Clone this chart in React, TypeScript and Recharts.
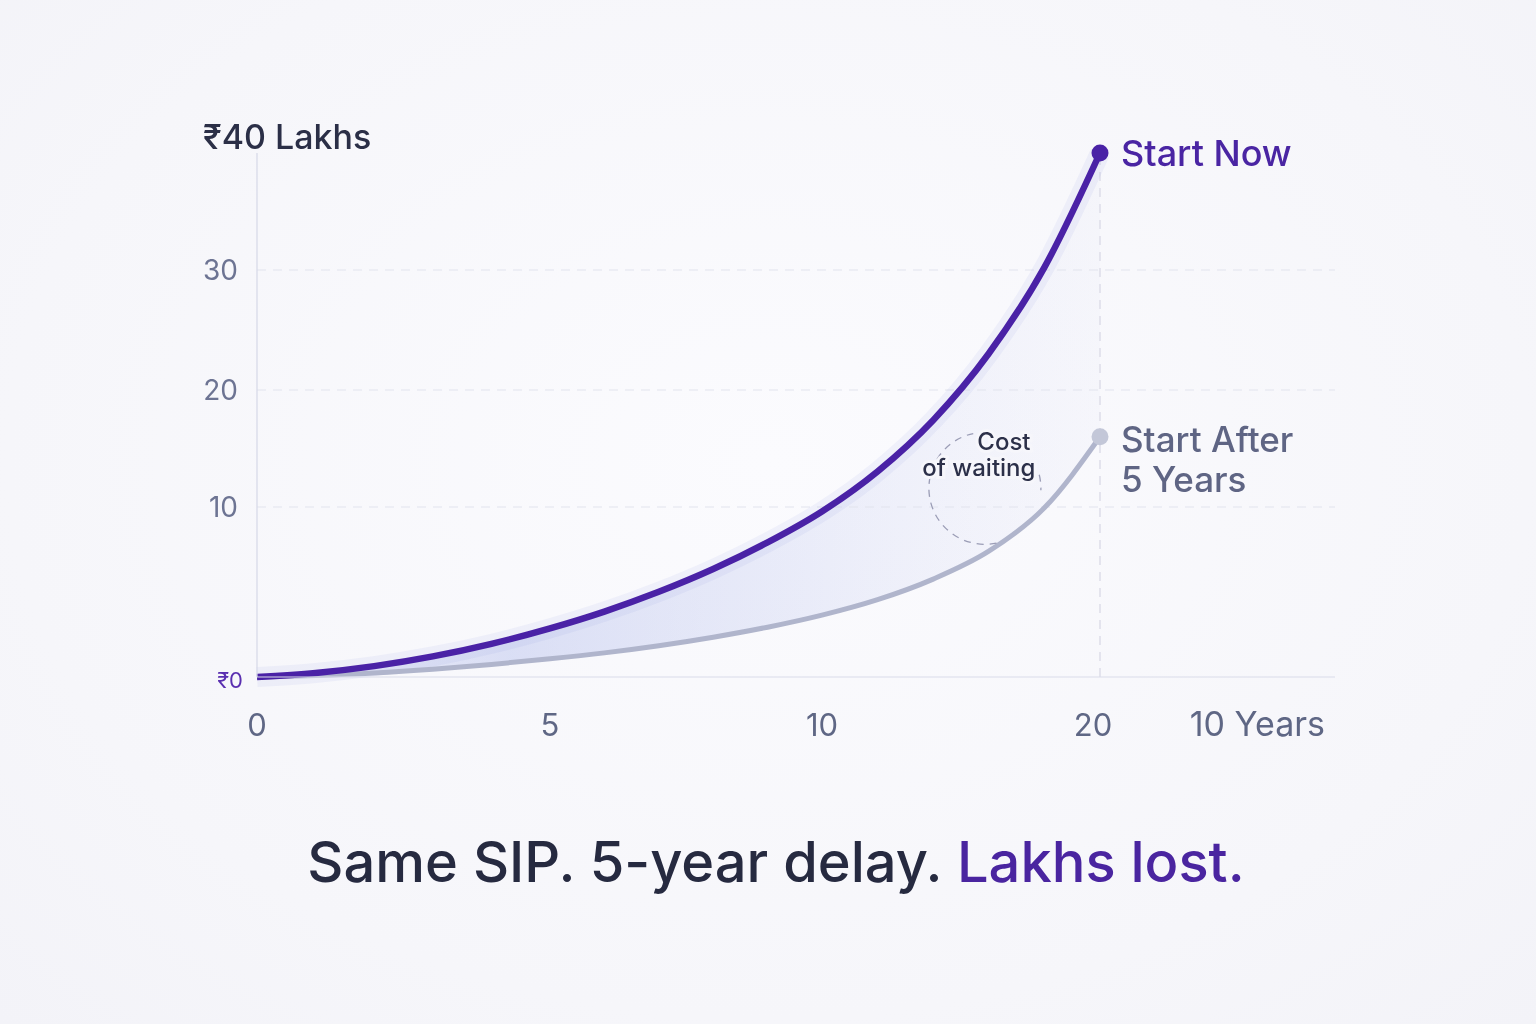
import {
  Area,
  ComposedChart,
  Line,
  ReferenceDot,
  ReferenceLine,
  XAxis,
  YAxis,
} from "recharts";

// years since first SIP instalment
const YEARS = [0, 1, 2, 3, 4, 5, 6, 7, 8, 9, 10, 12, 14, 16, 18, 20];
// corpus in ₹ lakhs
const START_NOW = [0, 0.24, 0.64, 1.21, 1.95, 2.86, 3.85, 5.01, 6.35, 7.92, 9.74, 13.04, 17.42, 23.04, 30.23, 40];
const START_LATER = [0, 0.09, 0.24, 0.46, 0.74, 1.07, 1.42, 1.84, 2.34, 2.93, 3.64, 4.55, 5.76, 7.4, 9.95, 16];

const X_TICKS = [0, 5, 10, 20];
const Y_TICKS = [0, 10, 20, 30, 40];
const GRID_Y = [10, 20, 30];

// the artwork's axes are not evenly spaced, so both use a piecewise scale
const X_KNOTS = [0, 5, 10, 20, 28];
const X_FRACS = [0, 0.2718, 0.5241, 0.782, 1];
const Y_KNOTS = [0, 10, 20, 30, 40];
const Y_FRACS = [0, 0.3244, 0.5477, 0.7767, 1];

const DATA = YEARS.map((year, i) => ({
  year,
  now: START_NOW[i],
  later: START_LATER[i],
}));

const PURPLE = "#4a22a6";
const GREY = "#b0b5cc";
const FONT = "Inter, 'Noto Sans', sans-serif";

function piecewiseScale(knots: number[], fracs: number[]) {
  let dom = [knots[0], knots[knots.length - 1]];
  let rng = [0, 1];
  const scale: any = (v: number) => {
    let i = 0;
    while (i < knots.length - 2 && v > knots[i + 1]) i++;
    const t = (v - knots[i]) / (knots[i + 1] - knots[i]);
    const f = fracs[i] + t * (fracs[i + 1] - fracs[i]);
    return rng[0] + f * (rng[1] - rng[0]);
  };
  scale.domain = (d?: number[]) => {
    if (!d) return dom;
    dom = d;
    return scale;
  };
  scale.range = (r?: number[]) => {
    if (!r) return rng;
    rng = r;
    return scale;
  };
  scale.copy = () => piecewiseScale(knots, fracs).domain(dom).range(rng);
  scale.ticks = () => knots;
  return scale;
}

const xScale = piecewiseScale(X_KNOTS, X_FRACS);
const yScale = piecewiseScale(Y_KNOTS, Y_FRACS);

function YTick(props: any) {
  const { x, y, payload } = props;
  const v = payload.value;
  if (v === 40) {
    return (
      <text x={x - 35} y={y - 4} fill="#2b2f47" fontSize={34} fontWeight={500} fontFamily={FONT}>
        ₹40 Lakhs
      </text>
    );
  }
  if (v === 0) {
    return (
      <text x={x + 5} y={y + 11} textAnchor="end" fill="#5a2fb0" fontSize={22} fontFamily={FONT}>
        ₹0
      </text>
    );
  }
  return (
    <text x={x} y={y + 10} textAnchor="end" fill="#6d7493" fontSize={28} fontFamily={FONT}>
      {v}
    </text>
  );
}

function XTick(props: any) {
  const { x, y, payload } = props;
  const shift = payload.value === 20 ? -7 : 0;
  return (
    <text x={x + shift} y={y + 59} textAnchor="middle" fill="#5f6785" fontSize={31} fontFamily={FONT}>
      {payload.value}
    </text>
  );
}

function YearsLabel(props: any) {
  const vb = props.viewBox;
  return (
    <text x={vb.x + vb.width - 10} y={vb.y + 59} textAnchor="end" fill="#5f6785" fontSize={34} fontFamily={FONT}>
      10 Years
    </text>
  );
}

function endDot(color: string) {
  return (p: any) =>
    p.index === DATA.length - 1 ? (
      <circle key={p.index} cx={p.cx} cy={p.cy} r={8.5} fill={color} />
    ) : (
      <g key={p.index} />
    );
}

function EndLabel(lines: string[], color: string, dy: number, size: number) {
  return (p: any) => (
    <text x={p.cx + 21} y={p.cy + dy} fill={color} fontSize={size} fontWeight={500} fontFamily={FONT}>
      {lines.map((l, i) => (
        <tspan key={i} x={p.cx + 21} dy={i === 0 ? 0 : 40}>
          {l}
        </tspan>
      ))}
    </text>
  );
}

function CostOfWaiting(p: any) {
  const { cx, cy } = p;
  const r = 56;
  const pt = (deg: number) => {
    const a = (deg * Math.PI) / 180;
    return `${cx + r * Math.cos(a)} ${cy + r * Math.sin(a)}`;
  };
  const textStyle = {
    paintOrder: "stroke" as const,
    stroke: "#f6f6fb",
    strokeWidth: 6,
  };
  return (
    <g>
      <path
        d={`M ${pt(78)} A ${r} ${r} 0 0 1 ${pt(258)}`}
        fill="none"
        stroke="#9b9db6"
        strokeWidth={1.3}
        strokeDasharray="7 6"
      />
      <path
        d={`M ${pt(-14)} A ${r} ${r} 0 0 1 ${pt(2)}`}
        fill="none"
        stroke="#9b9db6"
        strokeWidth={1.3}
        strokeDasharray="7 6"
      />
      <text x={cx + 19} y={cy - 38} textAnchor="middle" fill="#2c3049" fontSize={24} fontWeight={500} fontFamily={FONT} style={textStyle}>
        Cost
      </text>
      <text x={cx - 6} y={cy - 12} textAnchor="middle" fill="#2c3049" fontSize={24} fontWeight={500} fontFamily={FONT} style={textStyle}>
        of waiting
      </text>
    </g>
  );
}

export default function App() {
  return (
    <div
      style={{
        position: "fixed",
        left: 0,
        top: 0,
        width: 1536,
        height: 1024,
        overflow: "hidden",
        background: "radial-gradient(ellipse at 50% 45%, #fbfbfe 0%, #f6f6fa 70%, #f3f3f8 100%)",
        fontFamily: FONT,
      }}
    >
      <div style={{ position: "absolute", left: 0, top: 0 }}>
        <ComposedChart
          width={1536}
          height={760}
          data={DATA}
          margin={{ top: 153, right: 201, bottom: 23, left: 197 }}
        >
          <defs>
            <linearGradient id="gapFill" x1="0" y1="0" x2="1" y2="0">
              <stop offset="0%" stopColor="#8e9de3" stopOpacity={0.15} />
              <stop offset="30%" stopColor="#8e9de3" stopOpacity={0.48} />
              <stop offset="62%" stopColor="#98a5e4" stopOpacity={0.3} />
              <stop offset="100%" stopColor="#b4bbe8" stopOpacity={0.08} />
            </linearGradient>
          </defs>
          <XAxis
            dataKey="year"
            type="number"
            domain={[0, 28]}
            scale={xScale}
            ticks={X_TICKS}
            height={60}
            tickLine={false}
            tickSize={0}
            tickMargin={0}
            axisLine={{ stroke: "#d9dbe9", strokeWidth: 1.2 }}
            tick={<XTick />}
            interval={0}
            label={<YearsLabel />}
          />
          <YAxis
            type="number"
            domain={[0, 40]}
            scale={yScale}
            ticks={Y_TICKS}
            width={60}
            tickLine={false}
            tickSize={0}
            tickMargin={19}
            axisLine={{ stroke: "#d6d8e8", strokeWidth: 1.2 }}
            tick={<YTick />}
            interval={0}
          />
          {GRID_Y.map((v) => (
            <ReferenceLine key={v} y={v} stroke="#e2e3ee" strokeWidth={1.2} strokeDasharray="9 7" />
          ))}
          <ReferenceLine x={20} stroke="#dcdce8" strokeWidth={1.4} strokeDasharray="9 7" />
          <Area
            type="monotone"
            dataKey={(d: any) => [d.later, d.now]}
            stroke="none"
            fill="url(#gapFill)"
            isAnimationActive={false}
            activeDot={false}
          />
          <Line
            type="monotone"
            dataKey="now"
            stroke="#6f7fd6"
            strokeOpacity={0.08}
            strokeWidth={20}
            dot={false}
            activeDot={false}
            isAnimationActive={false}
          />
          <Line
            type="monotone"
            dataKey="later"
            stroke={GREY}
            strokeWidth={5}
            dot={endDot("#c3c7d8")}
            activeDot={false}
            isAnimationActive={false}
          />
          <Line
            type="monotone"
            dataKey="now"
            stroke={PURPLE}
            strokeWidth={6.5}
            dot={endDot(PURPLE)}
            activeDot={false}
            isAnimationActive={false}
          />
          <ReferenceDot x={20} y={40} r={0} shape={EndLabel(["Start Now"], "#4a25a3", 13, 36)} />
          <ReferenceDot
            x={20}
            y={START_LATER[START_LATER.length - 1]}
            r={0}
            shape={EndLabel(["Start After", "5 Years"], "#5f6584", 15, 35)}
          />
          <ReferenceDot x={15.86} y={11.6} r={0} shape={CostOfWaiting} />
        </ComposedChart>
      </div>
      <div
        style={{
          position: "absolute",
          left: 0,
          top: 834,
          width: 1552,
          textAlign: "center",
          fontSize: 56,
          lineHeight: "56px",
          fontWeight: 500,
          color: "#262a40",
          whiteSpace: "nowrap",
        }}
      >
        Same SIP. 5-year delay. <span style={{ color: "#4a25a0" }}>Lakhs lost.</span>
      </div>
    </div>
  );
}
